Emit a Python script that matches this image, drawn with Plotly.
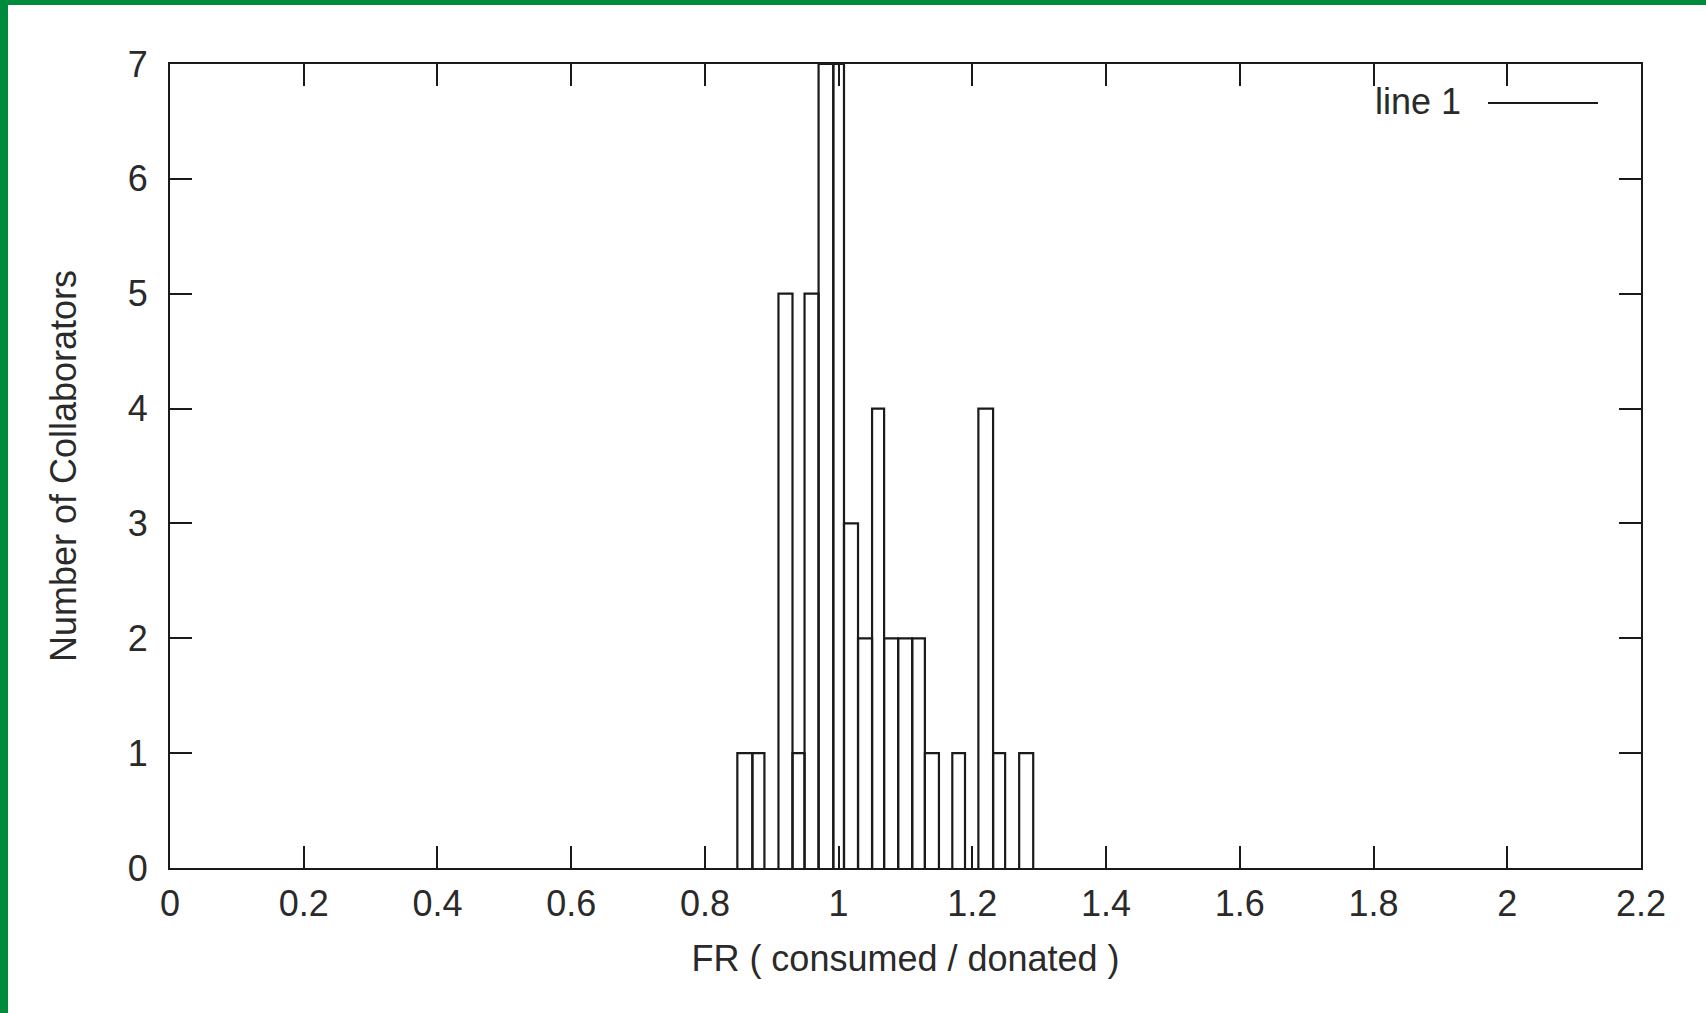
import plotly.graph_objects as go

# Histogram bin edges and counts per bin
bin_edges = [0.8485, 0.871, 0.889, 0.910, 0.931, 0.949, 0.970, 0.992, 1.008, 1.029,
             1.050, 1.068, 1.089, 1.110, 1.129, 1.150, 1.170, 1.189, 1.209, 1.231,
             1.249, 1.270, 1.291]
counts = [1, 1, 0, 5, 1, 5, 7, 7, 3, 2, 4, 2, 2, 2, 1, 0, 1, 0, 4, 1, 0, 1]

x_tick_vals = [0, 0.2, 0.4, 0.6, 0.8, 1.0, 1.2, 1.4, 1.6, 1.8, 2.0, 2.2]
x_tick_text = ["0", "0.2", "0.4", "0.6", "0.8", "1", "1.2", "1.4", "1.6", "1.8", "2", "2.2"]
y_tick_vals = [0, 1, 2, 3, 4, 5, 6, 7]

series_name = "line 1"
x_title = "FR ( consumed / donated )"
y_title = "Number of Collaborators"

# Build box outlines (gnuplot "with boxes" look)
px, py = [], []
for i, c in enumerate(counts):
    if c <= 0:
        continue
    l, r = bin_edges[i], bin_edges[i + 1]
    px += [l, l, r, r, None]
    py += [0, c, c, 0, None]

FONT = "Liberation Sans, Arial, sans-serif"
INK = "#1a1a1a"
TXT = "#2a2a2a"

fig = go.Figure()
fig.add_trace(go.Scatter(x=px, y=py, mode="lines", name=series_name,
                         line=dict(color=INK, width=2.2), showlegend=False,
                         connectgaps=False, hoverinfo="skip"))

W, H = 1706, 1013
ml, mr, mt, mb = 170, 65, 64, 145
pw, ph = W - ml - mr, H - mt - mb

def paper_x(pxl):
    return (pxl - ml) / pw

def paper_y(pyl):
    return (H - mb - pyl) / ph

axis_common = dict(showgrid=False, zeroline=False, showline=True, linecolor=INK,
                   linewidth=2.2, ticks="inside", ticklen=22, tickwidth=2,
                   tickcolor=INK, mirror="ticks",
                   tickfont=dict(family=FONT, size=36, color=TXT))

fig.update_layout(
    width=W, height=H, autosize=False,
    paper_bgcolor="white", plot_bgcolor="white",
    margin=dict(l=ml, r=mr, t=mt, b=mb),
    xaxis=dict(range=[0, 2.2], tickvals=x_tick_vals, ticktext=x_tick_text,
               ticklabelstandoff=3,
               title=dict(text=x_title, font=dict(family=FONT, size=36, color=TXT),
                          standoff=23),
               **axis_common),
    yaxis=dict(range=[0, 7], tickvals=y_tick_vals, ticklabelstandoff=13,
               title=dict(text=y_title, font=dict(family=FONT, size=36, color=TXT),
                          standoff=40),
               **axis_common),
    showlegend=False,
)

# gnuplot-style key: text then line sample
fig.add_annotation(text=series_name, xref="paper", yref="paper",
                   x=paper_x(1463), y=paper_y(102), xanchor="right", yanchor="middle",
                   showarrow=False, font=dict(family=FONT, size=36, color=TXT))
fig.add_shape(type="line", xref="paper", yref="paper",
              x0=paper_x(1488), x1=paper_x(1598), y0=paper_y(103), y1=paper_y(103),
              line=dict(color=INK, width=2))

# green frame (top and left edges of the slide)
GREEN = "#008A3E"
fig.add_shape(type="rect", xref="paper", yref="paper", layer="above",
              x0=paper_x(-5), x1=paper_x(W + 5), y0=paper_y(5), y1=paper_y(-5),
              line=dict(width=0), fillcolor=GREEN)
fig.add_shape(type="rect", xref="paper", yref="paper", layer="above",
              x0=paper_x(-5), x1=paper_x(8), y0=paper_y(H + 5), y1=paper_y(-5),
              line=dict(width=0), fillcolor=GREEN)

fig.write_html("out.html", config={"displayModeBar": False},
               post_script="document.body.style.margin='0';document.body.style.overflow='hidden';")
